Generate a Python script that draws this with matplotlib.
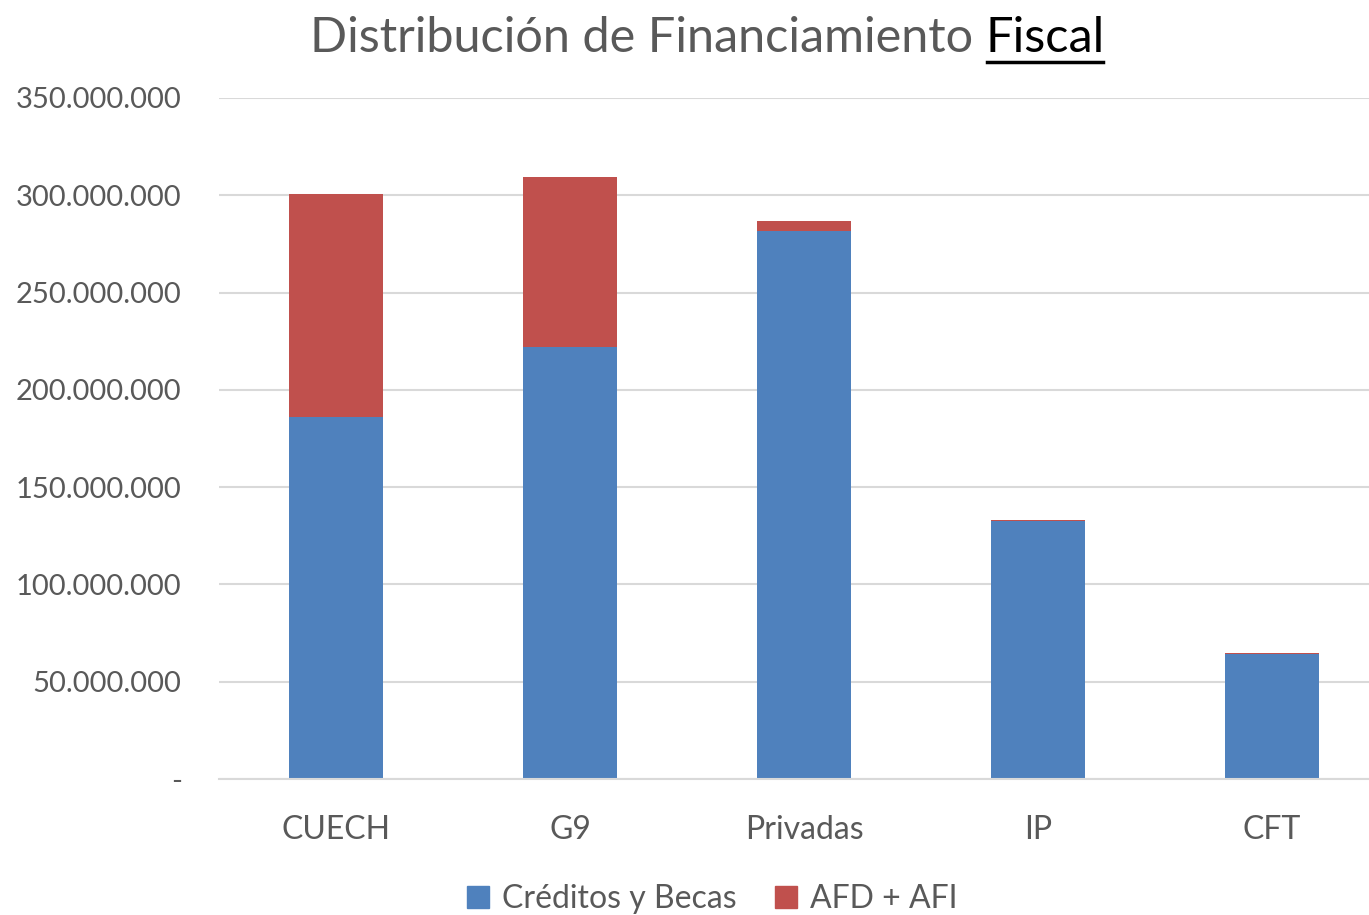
import matplotlib
matplotlib.use("Agg")
import matplotlib.pyplot as plt
from matplotlib.ticker import FuncFormatter
from matplotlib.patches import Patch

# data (pesos, approx.)
categorias = ["CUECH", "G9", "Privadas", "IP", "CFT"]
creditos_becas = [186000000, 222000000, 281500000, 132500000, 64200000]
afd_afi = [114800000, 87500000, 5200000, 700000, 700000]

azul = "#4F81BD"
rojo = "#C0504D"
gris = "#595959"

plt.rcParams["font.family"] = ["Lato", "DejaVu Sans"]

fig = plt.figure(figsize=(13.69, 9.15), dpi=100)
ax = fig.add_axes([0.16, 0.1486, 0.84, 0.7443])

x = range(len(categorias))
ax.bar(x, creditos_becas, width=0.4, color=azul, zorder=2)
ax.bar(x, afd_afi, width=0.4, bottom=creditos_becas, color=rojo, zorder=2)

ax.set_ylim(0, 350000000)
ax.set_xlim(-0.5, 4.414)
ax.set_yticks(range(0, 350000001, 50000000))
ax.yaxis.set_major_formatter(FuncFormatter(
    lambda v, p: "-" if v == 0 else "{:,.0f}".format(v).replace(",", ".")))
ax.set_xticks(list(x))
ax.set_xticklabels(categorias)

ax.grid(axis="y", color="#D9D9D9", linewidth=1.5, zorder=0)
for s in ["top", "right", "left"]:
    ax.spines[s].set_visible(False)
ax.spines["bottom"].set_color("#D9D9D9")
ax.spines["bottom"].set_linewidth(1.5)
ax.tick_params(axis="both", length=0, colors=gris)
ax.tick_params(axis="y", labelsize=21, pad=27)
ax.tick_params(axis="x", labelsize=23, pad=26)

# title: gray part + black underlined "Fiscal", centred together
t1 = fig.text(0.5, 0.943, "Distribución de Financiamiento ", ha="left",
              va="baseline", fontsize=35, color=gris)
t2 = fig.text(0.5, 0.943, "Fiscal", ha="left", va="baseline",
              fontsize=35, color="black")
fig.canvas.draw()
inv = fig.transFigure.inverted()
b1 = t1.get_window_extent().transformed(inv)
b2 = t2.get_window_extent().transformed(inv)
x0 = 0.5165 - (b1.width + b2.width) / 2
t1.set_x(x0)
t2.set_x(x0 + b1.width)
fig.canvas.draw()
bb = t2.get_window_extent().transformed(inv)
fig.add_artist(plt.Line2D([bb.x0 + 0.001, bb.x1 - 0.001], [0.9325, 0.9325],
                          transform=fig.transFigure, color="black", linewidth=2.5))

handles = [Patch(color=azul, label="Créditos y Becas"),
           Patch(color=rojo, label="AFD + AFI")]
fig.legend(handles=handles, loc="center", bbox_to_anchor=(0.52, 0.017),
           ncol=2, frameon=False, fontsize=23, labelcolor=gris,
           handlelength=0.7, handleheight=0.7, handletextpad=0.4, columnspacing=1.2)

fig.savefig("out.png", dpi=100)
